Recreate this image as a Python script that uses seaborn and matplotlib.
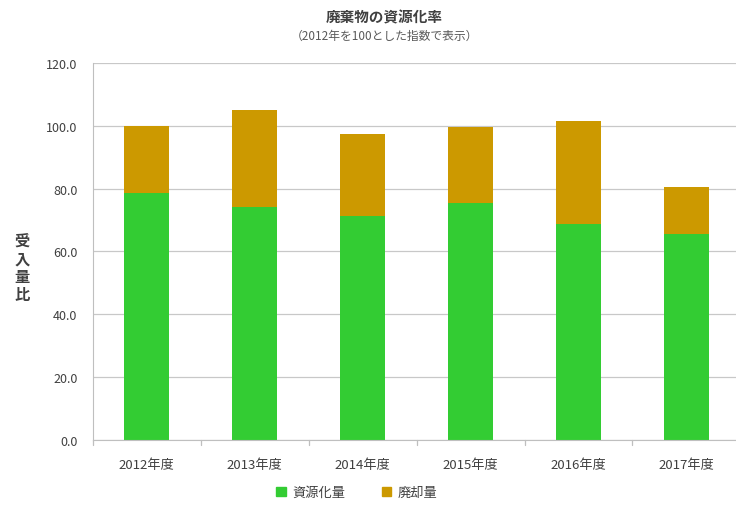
import numpy as np
import pandas as pd
import matplotlib
matplotlib.use("Agg")
import matplotlib.pyplot as plt
import seaborn as sns
from matplotlib.patches import Patch

years = ['2012年度', '2013年度', '2014年度', '2015年度', '2016年度', '2017年度']
shigenka = [78.5, 74.0, 71.3, 75.5, 68.8, 65.6]   # 資源化量
haikyaku = [21.5, 31.0, 26.1, 24.2, 32.8, 15.0]   # 廃却量

green = '#33CC33'
gold = '#CC9900'

sns.set_style('white')
plt.rcParams['font.family'] = ['Noto Sans CJK JP', 'DejaVu Sans']

df = pd.DataFrame({'year': years, 'shigenka': shigenka, 'haikyaku': haikyaku})
df['total'] = df['shigenka'] + df['haikyaku']

fig = plt.figure(figsize=(7.36, 5.06), dpi=100)
# plot area runs slightly past the right edge, as in the original
ax = fig.add_axes([0.126, 0.128, 0.880, 0.746])

sns.barplot(x='year', y='total', data=df, color=gold, width=0.42, ax=ax,
            saturation=1, linewidth=0)
sns.barplot(x='year', y='shigenka', data=df, color=green, width=0.42, ax=ax,
            saturation=1, linewidth=0)

ax.set_ylim(0, 120)
ax.set_xlim(-0.5, 5.5)
ax.set_yticks(np.arange(0, 121, 20))
ax.set_yticklabels([f'{v:.1f}' for v in np.arange(0, 121, 20)], fontsize=9, color='#404040')
ax.tick_params(axis='y', length=5, color='#bfbfbf', pad=6)
ax.tick_params(axis='x', length=0, pad=13, labelsize=9.5, labelcolor='#404040')
ax.set_xlabel('')
ax.set_ylabel('')
ax.yaxis.grid(True, color='#c8c8c8', linewidth=0.9)
ax.set_axisbelow(True)
for s in ['top', 'right']:
    ax.spines[s].set_visible(False)
for s in ['left', 'bottom']:
    ax.spines[s].set_color('#bfbfbf')

# category boundary ticks on x-axis
for b in np.arange(-0.5, 6, 1):
    ax.plot([b, b], [0, -1.6], color='#bfbfbf', linewidth=0.9, clip_on=False)

fig.text(0.522, 0.965, '廃棄物の資源化率', ha='center', va='center', fontsize=10.5,
         fontweight='bold', color='#404040')
fig.text(0.522, 0.928, '（2012年を100とした指数で表示）', ha='center', va='center',
         fontsize=8.5, color='#595959')
fig.text(0.03, 0.47, '受\n入\n量\n比', ha='center', va='center', fontsize=11,
         fontweight='bold', color='#404040', linespacing=1.15)

handles = [Patch(color=green, label='資源化量'), Patch(color=gold, label='廃却量')]
fig.legend(handles=handles, loc='center', bbox_to_anchor=(0.485, 0.025), ncol=2,
           frameon=False, fontsize=9.5, handlelength=0.7, handleheight=0.7,
           handletextpad=0.5, columnspacing=2.8, labelcolor='#404040')

fig.savefig('out.png', dpi=100)
